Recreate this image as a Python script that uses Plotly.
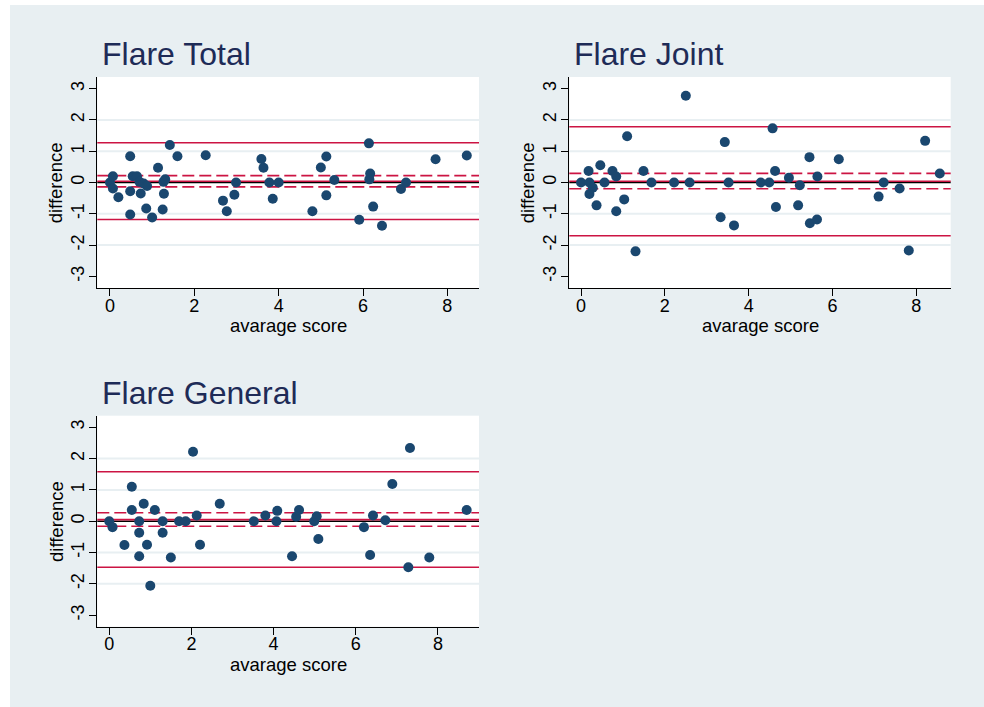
import plotly.graph_objects as go

# ---------------- data ----------------
total_avg = [0.0, 0.07, 0.07, 0.2, 0.48, 0.48, 0.48, 0.54, 0.64, 0.70, 0.73, 0.80, 0.88, 0.86,
             1.0, 1.14, 1.27, 1.31, 1.28, 1.25, 1.42, 1.6, 2.27, 2.68, 2.77, 2.95, 2.99, 3.59,
             3.64, 3.78, 3.86, 4.0, 4.8, 5.0, 5.13, 5.13, 5.32, 5.91, 6.14, 6.17, 6.15, 6.24,
             6.45, 6.9, 7.02, 7.72, 8.46]
total_diff = [0.0, 0.2, -0.19, -0.47, 0.84, -0.28, -1.02, 0.2, 0.2, 0.02, -0.35, -0.03, -0.11, -0.83,
              -1.12, 0.47, 0.02, 0.1, -0.36, -0.86, 1.2, 0.84, 0.87, -0.58, -0.92, -0.39, 0.0, 0.75,
              0.47, 0.0, -0.52, 0.0, -0.92, 0.48, 0.83, -0.41, 0.08, -1.19, 1.25, 0.29, 0.1, -0.77,
              -1.38, -0.21, 0.0, 0.74, 0.86]

joint_avg = [0.0, 0.18, 0.2, 0.28, 0.2, 0.37, 0.46, 0.56, 0.75, 0.84, 0.84, 1.03, 1.1, 1.3,
             1.49, 1.68, 2.22, 2.5, 2.59, 3.33, 3.43, 3.52, 3.65, 4.29, 4.49, 4.57, 4.63, 4.65,
             4.96, 5.18, 5.22, 5.45, 5.46, 5.63, 5.64, 6.15, 7.1, 7.22, 7.6, 7.82, 8.21, 8.56]
joint_diff = [0.0, 0.37, 0.0, -0.17, -0.37, -0.73, 0.55, 0.0, 0.37, 0.19, -0.92, -0.54, 1.48, -2.2,
              0.37, 0.0, 0.0, 2.77, 0.0, -1.11, 1.29, 0.0, -1.37, 0.0, 0.0, 1.73, 0.37, -0.78,
              0.15, -0.73, -0.09, 0.81, -1.3, -1.18, 0.19, 0.74, -0.45, 0.0, -0.19, -2.17, 1.33, 0.29]

general_avg = [0.0, 0.08, 0.37, 0.55, 0.55, 0.73, 0.73, 0.73, 0.84, 0.92, 1.0, 1.11, 1.3, 1.3,
               1.5, 1.7, 1.86, 2.04, 2.13, 2.21, 2.69, 3.52, 3.8, 4.09, 4.07, 4.45, 4.55, 4.62,
               4.99, 5.05, 5.09, 6.2, 6.35, 6.42, 6.72, 6.89, 7.28, 7.32, 7.79, 8.7]
general_diff = [0.0, -0.19, -0.76, 1.1, 0.36, 0.0, -0.37, -1.12, 0.56, -0.75, -2.06, 0.36, 0.0, -0.37,
                -1.16, 0.0, 0.0, 2.22, 0.18, -0.75, 0.56, 0.0, 0.18, 0.33, 0.0, -1.12, 0.14, 0.36,
                0.0, 0.16, -0.57, -0.19, -1.08, 0.18, 0.03, 1.19, -1.47, 2.34, -1.16, 0.36]

titles = ["Flare Total", "Flare Joint", "Flare General"]
# mean difference, confidence interval of mean, limits of agreement
mean_diff = [0.04, 0.04, 0.05]
ci_lower = [-0.14, -0.20, -0.16]
ci_upper = [0.22, 0.29, 0.27]
loa_lower = [-1.18, -1.70, -1.47]
loa_upper = [1.27, 1.78, 1.58]
grid_vals = [-2, -1, 1, 2]
y_ticks = [-3, -2, -1, 0, 1, 2, 3]
y_ticktext = ["-3", "-2", "-1", "0", "1", "2", "3"]
x_ticks = [0, 2, 4, 6, 8]
x_title = "avarage score"
y_title = "difference"

# ---------------- style / layout ----------------
W, H = 984, 707
BG = "#e8eff2"
NAVY = "#1a476f"
RED = "#cc1443"
TITLE_C = "#1e2b57"
FONT = "Liberation Sans, Arial, sans-serif"


def fx(p):
    return p / W


def fy(p):
    return 1 - p / H


panels = [
    dict(avg=total_avg, diff=total_diff, xdom=(97.3, 479), ydom=(77, 288), xr=[-0.30, 8.75]),
    dict(avg=joint_avg, diff=joint_diff, xdom=(569.3, 950.7), ydom=(77, 288), xr=[-0.28, 8.82]),
    dict(avg=general_avg, diff=general_diff, xdom=(97.3, 479), ydom=(415.7, 626.7), xr=[-0.29, 9.0]),
]

fig = go.Figure()
shapes = []
annotations = []
layout = {}

for i, p in enumerate(panels):
    k = "" if i == 0 else str(i + 1)
    xa, ya = "x" + k, "y" + k
    fig.add_trace(go.Scatter(
        x=p["avg"], y=p["diff"], mode="markers", xaxis=xa, yaxis=ya,
        marker=dict(size=10, color=NAVY, line=dict(width=0)),
        showlegend=False, hoverinfo="x+y"))

    axis_common = dict(showline=True, linecolor="black", linewidth=1.3, ticks="outside",
                       ticklen=7, tickwidth=1.3, tickcolor="black", showgrid=False,
                       zeroline=False, tickfont=dict(family=FONT, size=18, color="black"))
    layout["xaxis" + k] = dict(domain=[fx(p["xdom"][0]), fx(p["xdom"][1])], range=p["xr"],
                               anchor=ya, tickvals=x_ticks, ticklabelstandoff=-6, **axis_common)
    layout["yaxis" + k] = dict(domain=[fy(p["ydom"][1]), fy(p["ydom"][0])], range=[-3.37, 3.37],
                               anchor=xa, tickvals=y_ticks, ticktext=y_ticktext, tickangle=-90,
                               ticklabelstandoff=-2, **axis_common)

    xd = xa + " domain"
    for g in grid_vals:
        shapes.append(dict(type="line", xref=xd, yref=ya, x0=0, x1=1, y0=g, y1=g,
                           line=dict(color=BG, width=2), layer="below"))
    shapes.append(dict(type="line", xref=xd, yref=ya, x0=0, x1=1, y0=0, y1=0,
                       line=dict(color="black", width=1.6), layer="below"))
    shapes.append(dict(type="line", xref=xd, yref=ya, x0=0, x1=1, y0=mean_diff[i], y1=mean_diff[i],
                       line=dict(color=RED, width=1.6), layer="below"))
    for v in (ci_lower[i], ci_upper[i]):
        shapes.append(dict(type="line", xref=xd, yref=ya, x0=0, x1=1, y0=v, y1=v,
                           line=dict(color=RED, width=1.6, dash="12px,5px"), layer="below"))
    for v in (loa_lower[i], loa_upper[i]):
        shapes.append(dict(type="line", xref=xd, yref=ya, x0=0, x1=1, y0=v, y1=v,
                           line=dict(color=RED, width=1.6), layer="below"))

    # titles & axis titles
    x0, x1 = p["xdom"]
    y0, y1 = p["ydom"]
    annotations.append(dict(text=titles[i], xref="paper", yref="paper", x=fx(x0 + 2.5),
                            y=fy(y0 - 22.5), xanchor="left", yanchor="middle", showarrow=False,
                            font=dict(family=FONT, size=32, color=TITLE_C)))
    annotations.append(dict(text=x_title, xref="paper", yref="paper", x=fx((x0 + x1) / 2),
                            y=fy(y1 + 37.5), xanchor="center", yanchor="middle", showarrow=False,
                            font=dict(family=FONT, size=18.5, color="black")))
    annotations.append(dict(text=y_title, xref="paper", yref="paper", x=fx(x0 - 41.5),
                            y=fy((y0 + y1) / 2), xanchor="center", yanchor="middle", showarrow=False,
                            textangle=-90, font=dict(family=FONT, size=18.5, color="black")))

# white outer border strips (left & top)
shapes.append(dict(type="rect", xref="paper", yref="paper", x0=-0.01, x1=fx(10), y0=-0.01, y1=1.01,
                   fillcolor="white", line=dict(width=0), layer="below"))
shapes.append(dict(type="rect", xref="paper", yref="paper", x0=-0.01, x1=1.01, y0=fy(5), y1=1.01,
                   fillcolor="white", line=dict(width=0), layer="below"))

fig.update_layout(
    width=W, height=H, margin=dict(l=0, r=0, t=0, b=0),
    paper_bgcolor=BG, plot_bgcolor="white",
    font=dict(family=FONT, size=18, color="black"),
    shapes=shapes, annotations=annotations, showlegend=False,
    **layout)

fig.write_html(
    "out.html",
    config={"displayModeBar": False},
    post_script="document.body.style.margin='0';document.body.style.padding='0';"
                "document.documentElement.style.overflow='hidden';")
